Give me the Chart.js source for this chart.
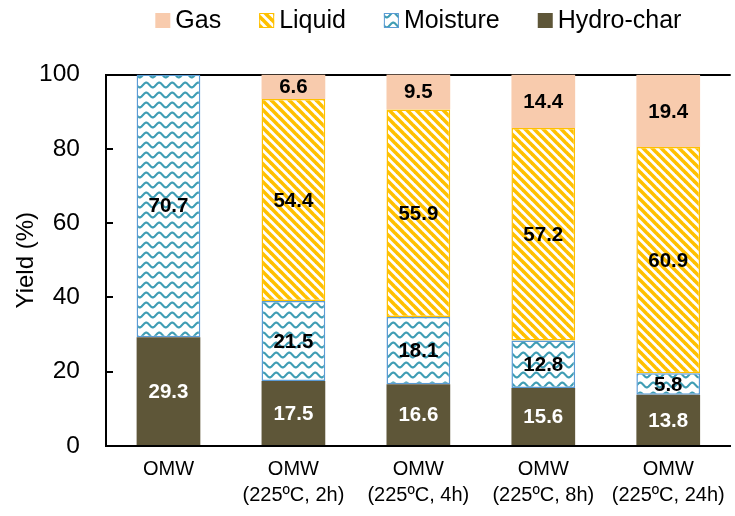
<!DOCTYPE html>
<html>
<head>
<meta charset="utf-8">
<script src="https://cdn.jsdelivr.net/npm/chart.js@4.4.0/dist/chart.umd.min.js"></script>
<style>
  html, body { margin: 0; padding: 0; background: #fff; }
  #wrap { width: 735px; height: 516px; }
</style>
</head>
<body>
<div id="wrap"><canvas id="c" width="735" height="516"></canvas></div>
<script>
// Product yields of OMW before and after hydrothermal treatment
const categories = [
  ['OMW'],
  ['OMW', '(225ºC, 2h)'],
  ['OMW', '(225ºC, 4h)'],
  ['OMW', '(225ºC, 8h)'],
  ['OMW', '(225ºC, 24h)']
];
const hydroChar = [29.3, 17.5, 16.6, 15.6, 13.8];
const moisture  = [70.7, 21.5, 18.1, 12.8, 5.8];
const liquid    = [0, 54.4, 55.9, 57.2, 60.9];
const gas       = [0, 6.6, 9.5, 14.4, 19.4];
const yTicks    = [0, 20, 40, 60, 80, 100];

const FONT = '"Liberation Sans", Arial, Helvetica, sans-serif';

// Diagonal yellow hatch for the liquid fraction
function stripePattern() {
  const s = 9;
  const c = document.createElement('canvas');
  c.width = s; c.height = s;
  const g = c.getContext('2d');
  g.fillStyle = '#ffffff';
  g.fillRect(0, 0, s, s);
  g.strokeStyle = '#FFC000';
  g.lineWidth = 3.6;
  for (let k = -s; k <= s; k += s) {
    g.beginPath();
    g.moveTo(k - 2, -2);
    g.lineTo(k + s + 2, s + 2);
    g.stroke();
  }
  return g.createPattern(c, 'repeat');
}

// Wavy teal lines for the moisture fraction
function wavePattern() {
  const w = 13, h = 10;
  const c = document.createElement('canvas');
  c.width = w; c.height = h;
  const g = c.getContext('2d');
  g.fillStyle = '#ffffff';
  g.fillRect(0, 0, w, h);
  g.strokeStyle = '#3F9DB4';
  g.lineWidth = 2.1;
  for (const off of [-h, 0, h]) {
    g.beginPath();
    for (let x = -1; x <= w + 1; x += 0.5) {
      const y = h / 2 + off - 2.4 * Math.sin(2 * Math.PI * x / w);
      if (x === -1) g.moveTo(x, y); else g.lineTo(x, y);
    }
    g.stroke();
  }
  return g.createPattern(c, 'repeat');
}

// Value written in the middle of each stacked segment
const segmentLabels = {
  id: 'segmentLabels',
  afterDatasetsDraw(chart) {
    const ctx = chart.ctx;
    ctx.save();
    ctx.font = 'bold 20.5px ' + FONT;
    ctx.textAlign = 'center';
    ctx.textBaseline = 'middle';
    chart.data.datasets.forEach((ds, i) => {
      const meta = chart.getDatasetMeta(i);
      meta.data.forEach((bar, j) => {
        const v = ds.data[j];
        if (!v) return;
        const p = bar.getProps(['x', 'y', 'base'], true);
        ctx.fillStyle = ds.labelColor;
        ctx.fillText(v.toFixed(1), p.x, (p.y + p.base) / 2 + 1);
      });
    });
    ctx.restore();
  }
};

// Short tick marks pointing into the plot on the value axis
const innerTicks = {
  id: 'innerTicks',
  afterDraw(chart) {
    const ctx = chart.ctx;
    const y = chart.scales.y;
    const left = chart.chartArea.left;
    ctx.save();
    ctx.strokeStyle = '#000';
    ctx.lineWidth = 2;
    yTicks.forEach(v => {
      if (v <= 0 || v >= 100) return;
      const py = Math.round(y.getPixelForValue(v));
      ctx.beginPath();
      ctx.moveTo(left, py);
      ctx.lineTo(left + 7, py);
      ctx.stroke();
    });
    ctx.restore();
  }
};

// Legend row across the top, listed from top segment to bottom segment
const topLegend = {
  id: 'topLegend',
  afterDraw(chart) {
    const ctx = chart.ctx;
    const items = chart.data.datasets.slice().reverse();
    ctx.save();
    ctx.font = '25px ' + FONT;
    ctx.textBaseline = 'middle';
    const box = 15, gapText = 5, gapItem = 38;
    const widths = items.map(d => box + gapText + ctx.measureText(d.label).width);
    const total = widths.reduce((a, b) => a + b, 0) + gapItem * (items.length - 1);
    let x = (chart.chartArea.left + chart.chartArea.right) / 2 - total / 2;
    const cy = 20.5;
    items.forEach((d, i) => {
      ctx.fillStyle = d.backgroundColor;
      ctx.fillRect(x, cy - box / 2, box, box);
      if (d.borderWidth) {
        ctx.strokeStyle = d.borderColor;
        ctx.lineWidth = 1;
        ctx.strokeRect(x + 0.5, cy - box / 2 + 0.5, box - 1, box - 1);
      }
      ctx.fillStyle = '#000';
      ctx.fillText(d.label, x + box + gapText, cy + 1);
      x += widths[i] + gapItem;
    });
    ctx.restore();
  }
};

const stripes = stripePattern();
const waves = wavePattern();

new Chart(document.getElementById('c'), {
  type: 'bar',
  data: {
    labels: categories,
    datasets: [
      { label: 'Hydro-char', data: hydroChar, backgroundColor: '#5E5638', borderColor: '#5E5638', borderWidth: 0, labelColor: '#ffffff' },
      { label: 'Moisture', data: moisture, backgroundColor: waves, borderColor: '#5B9BD5', borderWidth: 1.5, labelColor: '#000000' },
      { label: 'Liquid', data: liquid, backgroundColor: stripes, borderColor: '#FFC000', borderWidth: 1.5, labelColor: '#000000' },
      { label: 'Gas', data: gas, backgroundColor: '#F8CBAD', borderColor: '#F8CBAD', borderWidth: 0, labelColor: '#000000' }
    ]
  },
  options: {
    responsive: false,
    animation: false,
    devicePixelRatio: 1,
    layout: { padding: { top: 74.5, left: 4, right: 3, bottom: 0 } },
    datasets: { bar: { categoryPercentage: 1, barPercentage: 0.51, borderSkipped: false } },
    plugins: {
      legend: { display: false },
      tooltip: { enabled: false }
    },
    scales: {
      x: {
        stacked: true,
        grid: { display: false, drawTicks: false },
        border: { display: true, color: '#000', width: 2 },
        ticks: { color: '#000', font: { family: FONT, size: 20, lineHeight: 1.3 }, padding: 10, maxRotation: 0 },
        afterFit(scale) { scale.height = 70; }
      },
      y: {
        stacked: true,
        min: 0,
        max: 100,
        afterBuildTicks(scale) { scale.ticks = yTicks.map(v => ({ value: v })); },
        grid: {
          drawTicks: false,
          lineWidth: 2,
          color: ctx => (ctx.tick && ctx.tick.value === 100 ? '#000' : 'rgba(0,0,0,0)')
        },
        border: { display: true, color: '#000', width: 2 },
        ticks: { color: '#000', font: { family: FONT, size: 24.5 }, padding: 26 },
        title: {
          display: true,
          text: 'Yield (%)',
          color: '#000',
          font: { family: FONT, size: 24 },
          padding: { top: 8, bottom: 0 }
        },
        afterFit(scale) { scale.width = 102; }
      }
    }
  },
  plugins: [segmentLabels, innerTicks, topLegend]
});
</script>
</body>
</html>
